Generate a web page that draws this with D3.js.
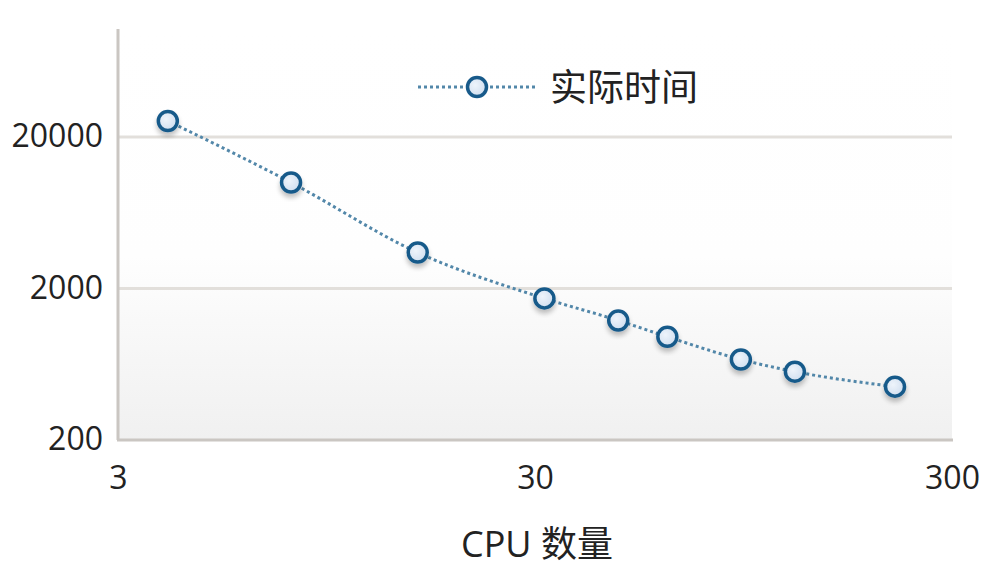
<!DOCTYPE html>
<html><head><meta charset="utf-8">
<script src="https://cdn.jsdelivr.net/npm/d3@7"></script>
<style>body{margin:0;background:#fff;}svg{display:block;}</style>
</head><body>
<svg id="c" width="1001" height="582"></svg>
<script>
const cpus = [3.95, 7.8, 15.7, 31.6, 47.5, 62.3, 93.5, 126, 219];
const times = [25500, 10000, 3450, 1720, 1230, 960, 680, 565, 450];
const yTicks = [200, 2000, 20000];
const xTicks = [3, 30, 300];
const seriesName = "实际时间";
const xTitle = "CPU 数量";

const svg = d3.select("#c");
const L = 118, R = 952, T = 31, B = 440;
const x = d3.scaleLog().domain([3, 300]).range([L, R]);
const y = d3.scaleLog().domain([200, 100000]).range([B, T]);

const defs = svg.append("defs");
const bg = defs.append("linearGradient").attr("id","bg").attr("x1",0).attr("y1",0).attr("x2",0).attr("y2",1);
bg.append("stop").attr("offset","0").attr("stop-color","#ffffff");
bg.append("stop").attr("offset","0.55").attr("stop-color","#fefefe");
bg.append("stop").attr("offset","1").attr("stop-color","#f0f0f0");
const mk = defs.append("radialGradient").attr("id","mk").attr("cx","0.4").attr("cy","0.4").attr("r","0.7");
mk.append("stop").attr("offset","0").attr("stop-color","#eef4fb");
mk.append("stop").attr("offset","1").attr("stop-color","#cddcee");
const sh = defs.append("filter").attr("id","sh").attr("x","-50%").attr("y","-50%").attr("width","200%").attr("height","200%");
sh.append("feGaussianBlur").attr("in","SourceAlpha").attr("stdDeviation",2.5);
sh.append("feOffset").attr("dx",0).attr("dy",4).attr("result","b");
sh.append("feComponentTransfer").append("feFuncA").attr("type","linear").attr("slope",0.25);
const fm = sh.append("feMerge"); fm.append("feMergeNode"); fm.append("feMergeNode").attr("in","SourceGraphic");

svg.append("rect").attr("x",L).attr("y",T).attr("width",R-L).attr("height",B-T).attr("fill","url(#bg)");

// gridlines
svg.append("g").selectAll("line").data(yTicks.slice(1)).join("line")
  .attr("x1",L).attr("x2",R).attr("y1",d=>y(d)).attr("y2",d=>y(d))
  .attr("stroke","#e2dfdb").attr("stroke-width",3);

// axes
const ya = svg.append("g").attr("transform",`translate(${L},0)`)
  .call(d3.axisLeft(y).tickValues(yTicks).tickSize(0).tickPadding(15).tickFormat(d3.format("d")));
ya.select(".domain").attr("stroke","#cac6c2").attr("stroke-width",3).attr("d",`M0,${T-2}V${B}`);
ya.selectAll("text").attr("font-family","'Open Sans', sans-serif").attr("font-size",32).attr("fill","#222").attr("dy","0.3em");

const xa = svg.append("g").attr("transform",`translate(0,${B})`)
  .call(d3.axisBottom(x).tickValues(xTicks).tickSize(0).tickPadding(26).tickFormat(d3.format("d")));
xa.select(".domain").attr("stroke","#cac6c2").attr("stroke-width",3).attr("d",`M${L-1},0H${R+1}`);
xa.selectAll("text").attr("font-family","'Open Sans', sans-serif").attr("font-size",32).attr("fill","#222");

svg.append("text").attr("x",537).attr("y",557).attr("text-anchor","middle")
  .attr("font-family","'Open Sans','Noto Sans CJK SC', sans-serif").attr("font-size",36).attr("fill","#222").text(xTitle);

// line
const data = cpus.map((c,i)=>({c, t: times[i]}));
const line = d3.line().x(d=>x(d.c)).y(d=>y(d.t)).curve(d3.curveMonotoneX);
svg.append("path").datum(data).attr("d",line).attr("fill","none")
  .attr("stroke","#5287a9").attr("stroke-width",3).attr("stroke-dasharray","3,3");

svg.append("g").selectAll("circle").data(data).join("circle")
  .attr("cx",d=>x(d.c)).attr("cy",d=>y(d.t)).attr("r",9.5)
  .attr("fill","url(#mk)").attr("stroke","#185a8a").attr("stroke-width",3.5).attr("filter","url(#sh)");

// legend
const lg = svg.append("g");
lg.append("line").attr("x1",418).attr("x2",537).attr("y1",87).attr("y2",87)
  .attr("stroke","#5287a9").attr("stroke-width",3).attr("stroke-dasharray","3,3");
lg.append("circle").attr("cx",477).attr("cy",87).attr("r",9.5)
  .attr("fill","url(#mk)").attr("stroke","#185a8a").attr("stroke-width",3.5);
lg.append("text").attr("x",550).attr("y",101).attr("font-family","'Noto Sans CJK SC', sans-serif")
  .attr("font-size",37).attr("fill","#222").text(seriesName);
</script>
</body></html>
